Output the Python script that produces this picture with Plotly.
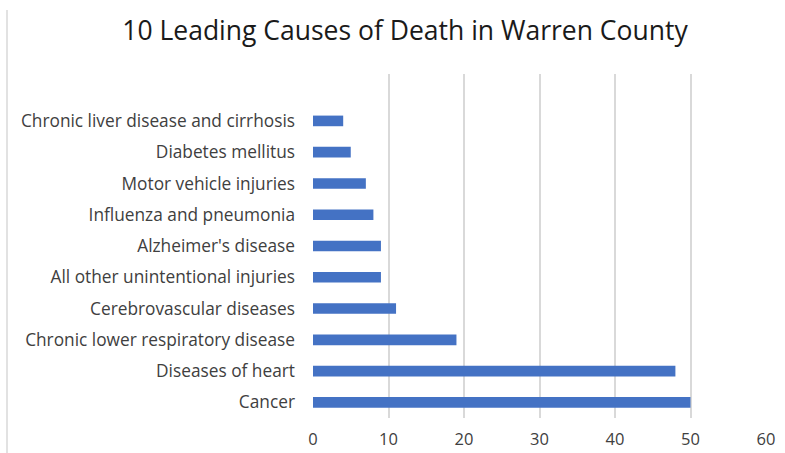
import plotly.graph_objects as go

categories = [
    "Cancer",
    "Diseases of heart",
    "Chronic lower respiratory disease",
    "Cerebrovascular diseases",
    "All other unintentional injuries",
    "Alzheimer's disease",
    "Influenza and pneumonia",
    "Motor vehicle injuries",
    "Diabetes mellitus",
    "Chronic liver disease and cirrhosis",
    " ",
]
values = [50, 48, 19, 11, 9, 9, 8, 7, 5, 4, None]
x_ticks = [0, 10, 20, 30, 40, 50, 60]

fig = go.Figure(
    go.Bar(
        y=categories,
        x=values,
        orientation="h",
        marker=dict(color="#4472C4", line=dict(width=0)),
        width=0.34,
    )
)

font_family = "Open Sans, Noto Sans, sans-serif"
L, R, T, B = 313, 19, 74, 35
W, H = 785, 453
pw, ph = W - L - R, H - T - B

fig.update_layout(
    width=W,
    height=H,
    paper_bgcolor="white",
    plot_bgcolor="white",
    margin=dict(l=L, r=R, t=T, b=B, autoexpand=False),
    showlegend=False,
    title=dict(
        text="10 Leading Causes of Death in Warren County",
        x=405 / W,
        xanchor="center",
        y=1 - 31 / H,
        yanchor="middle",
        font=dict(family=font_family, size=26.5, color="#1a1a1a"),
    ),
    xaxis=dict(
        range=[0, 60],
        tickvals=x_ticks,
        showgrid=True,
        gridcolor="#d9d9d9",
        gridwidth=1.5,
        zeroline=False,
        showline=False,
        automargin=False,
        tickfont=dict(family=font_family, size=16.5, color="#404040"),
        ticklabelstandoff=9,
    ),
    yaxis=dict(
        categoryorder="array",
        categoryarray=categories,
        range=[-0.5, 10.5],
        showgrid=False,
        zeroline=False,
        showline=False,
        automargin=False,
        tickfont=dict(family=font_family, size=17.3, color="#404040"),
        ticklabelstandoff=17,
    ),
)

fig.add_shape(
    type="line", xref="paper", yref="paper",
    x0=(7 - L) / pw, x1=(7 - L) / pw,
    y0=-(B + 2) / ph, y1=1 + (T - 10) / ph,
    line=dict(color="#d9d9d9", width=1.5),
)

fig.write_html("out.html", config={"displayModeBar": False})

with open("out.html", encoding="utf-8") as f:
    html = f.read()
html = html.replace("<body>", '<body style="margin:0;padding:0;overflow:hidden">', 1)
with open("out.html", "w", encoding="utf-8") as f:
    f.write(html)
